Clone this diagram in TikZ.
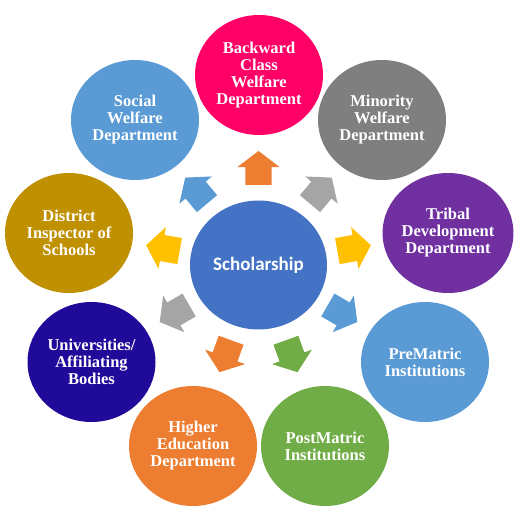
\documentclass[tikz,border=0pt]{standalone}
\usepackage{fontspec}
\setmainfont{Liberation Serif}
\newfontfamily\calibrifont{Carlito}
\usetikzlibrary{shapes.geometric,shapes.arrows}
\definecolor{PinkSC}{HTML}{FF0066}
\definecolor{GreySC}{HTML}{7F7F7F}
\definecolor{PurpleSC}{HTML}{7030A0}
\definecolor{BlueSC}{HTML}{5B9BD5}
\definecolor{GreenSC}{HTML}{70AD47}
\definecolor{OrangeSC}{HTML}{ED7D31}
\definecolor{NavySC}{HTML}{1F0A9A}
\definecolor{GoldSC}{HTML}{BF9000}
\definecolor{CentreSC}{HTML}{4472C4}
\definecolor{LightGreySC}{HTML}{A5A5A5}
\definecolor{YellowSC}{HTML}{FFC000}
\newcommand\nodesch{Scholarship}
\newcommand\nodebc{Backward\\Class\\Welfare\\Department}
\newcommand\nodemw{Minority\\Welfare\\Department}
\newcommand\nodetd{Tribal\\Development\\Department}
\newcommand\nodepre{PreMatric\\Institutions}
\newcommand\nodepost{PostMatric\\Institutions}
\newcommand\nodehe{Higher\\Education\\Department}
\newcommand\nodeuab{Universities/\\Affiliating\\Bodies}
\newcommand\nodedis{District\\Inspector of\\Schools}
\newcommand\nodesw{Social\\Welfare\\Department}
\tikzstyle{mycircle} = [ellipse, minimum width=128pt, minimum height=120pt, inner sep=0pt, align=center, text=white, font=\fontsize{16.5}{17}\selectfont\bfseries]
\tikzstyle{centre} = [ellipse, minimum width=137pt, minimum height=129pt, inner sep=0pt, fill=CentreSC, text=white, font=\calibrifont\fontsize{19}{22}\selectfont\bfseries]
\tikzstyle{myarrow} = [single arrow, inner xsep=0pt, inner ysep=13pt, minimum height=34pt, single arrow head extend=8pt, single arrow tip angle=105]
\tikzstyle{oa} = [myarrow, fill=OrangeSC]
\tikzstyle{ga} = [myarrow, fill=LightGreySC]
\tikzstyle{ya} = [myarrow, fill=YellowSC]
\tikzstyle{ba} = [myarrow, fill=BlueSC]
\tikzstyle{gra} = [myarrow, fill=GreenSC]
\begin{document}
\begin{tikzpicture}[x=1pt, y=1pt]
\useasboundingbox (0, 0) rectangle (523, 528);
\node[centre] (sch) at (258.5, 263) {\nodesch};
\node[mycircle, fill=PinkSC] (bc) at (259, 453) {\nodebc};
\node[mycircle, fill=GreySC] (mw) at (382, 408) {\nodemw};
\node[mycircle, fill=PurpleSC] (td) at (448, 295) {\nodetd};
\node[mycircle, fill=BlueSC] (pre) at (425, 166) {\nodepre};
\node[mycircle, fill=GreenSC] (post) at (325, 82) {\nodepost};
\node[mycircle, fill=OrangeSC] (he) at (193, 82) {\nodehe};
\node[mycircle, fill=NavySC] (uab) at (91.5, 166) {\nodeuab};
\node[mycircle, fill=GoldSC] (dis) at (69, 295) {\nodedis};
\node[mycircle, fill=BlueSC] (sw) at (135, 408) {\nodesw};
\node[oa, rotate=90] (abc) at ([shift={(90:92)}]sch.center) {};
\node[ga, rotate=50] (amw) at ([shift={(50:92)}]sch.center) {};
\node[ya, rotate=10] (atd) at ([shift={(10:92)}]sch.center) {};
\node[ba, rotate=-30] (apre) at ([shift={(-30:92)}]sch.center) {};
\node[gra, rotate=-70] (apost) at ([shift={(-70:92)}]sch.center) {};
\node[oa, rotate=-110] (ahe) at ([shift={(-110:92)}]sch.center) {};
\node[ga, rotate=-150] (auab) at ([shift={(-150:92)}]sch.center) {};
\node[ya, rotate=170] (adis) at ([shift={(170:92)}]sch.center) {};
\node[ba, rotate=130] (asw) at ([shift={(130:92)}]sch.center) {};
\end{tikzpicture}
\end{document}
